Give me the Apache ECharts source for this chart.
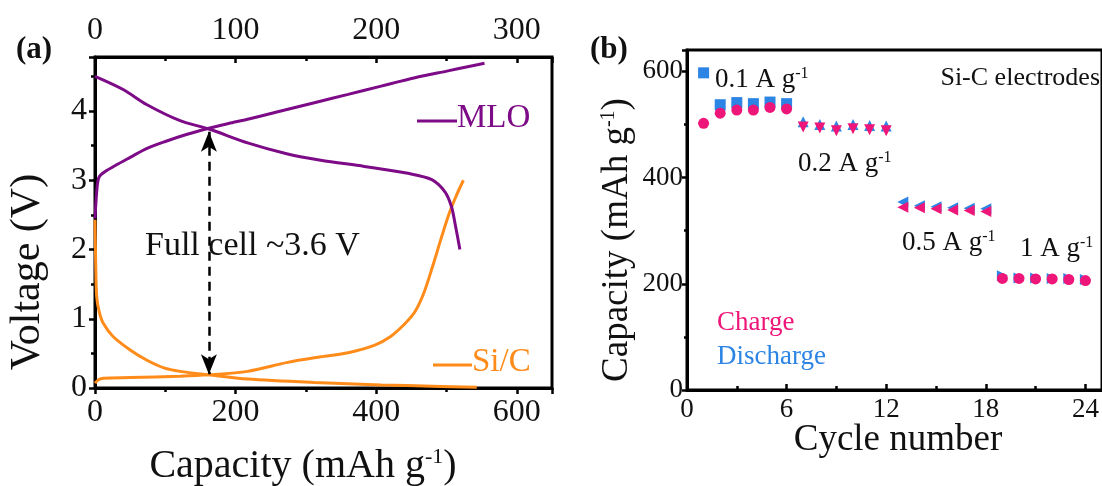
<!DOCTYPE html>
<html><head><meta charset="utf-8">
<script src="https://cdn.jsdelivr.net/npm/echarts@6/dist/echarts.min.js"></script>
<style>html,body{margin:0;padding:0;background:#fff}#c{width:1102px;height:486px}</style>
</head><body><div id="c"></div>
<script>
// ---------- Panel (a): voltage profiles ----------
var mloChargeX = [0, 3, 6, 15, 30, 50, 74, 100, 130, 162, 190, 217, 260, 312, 360, 407, 455, 502, 530, 554];
var mloChargeV = [2.45, 2.9, 3.05, 3.13, 3.22, 3.33, 3.46, 3.56, 3.66, 3.75, 3.82, 3.88, 3.99, 4.12, 4.24, 4.36, 4.48, 4.58, 4.64, 4.69];
var mloDisX = [0, 40, 74, 121, 162, 217, 274, 321, 383, 445, 479, 498, 507, 512, 519];
var mloDisV = [4.50, 4.31, 4.09, 3.86, 3.74, 3.54, 3.38, 3.29, 3.20, 3.10, 3.01, 2.83, 2.62, 2.38, 2.00];
var siDisX = [0, 1, 2.4, 6, 12, 26, 50, 74, 98, 121, 162, 217, 312, 407, 480, 543];
var siDisV = [2.43, 1.8, 1.32, 1.10, 0.93, 0.74, 0.55, 0.40, 0.29, 0.24, 0.19, 0.13, 0.08, 0.045, 0.025, 0.01];
var siChgX = [0, 5, 12, 50, 121, 162, 217, 274, 321, 360, 398, 420, 440, 455, 468, 480, 492, 503, 514, 524];
var siChgV = [0.07, 0.12, 0.14, 0.15, 0.17, 0.19, 0.24, 0.37, 0.45, 0.51, 0.62, 0.74, 0.92, 1.10, 1.38, 1.75, 2.15, 2.50, 2.78, 3.00];
var arrowX = 162, arrowTopV = 3.70, arrowBotV = 0.20;

// ---------- Panel (b): rate capability ----------
var cycles = [1,2,3,4,5,6,7,8,9,10,11,12,13,14,15,16,17,18,19,20,21,22,23,24];
var dischargeCap = [597,537,541,539,542,539, 505,500,497,500,498,497, 354,347,345,343,342,341, 215,211,211,210,210,208];
var chargeCap    = [502,521,527,527,532,529, 495,493,488,492,490,488, 344,343,341,339,338,336, 210,210,209,209,208,206];
var rateLabels = ['0.1', '0.2', '0.5', '1'];

var FONT = "'Liberation Serif','Times New Roman',serif";
var PURPLE = '#7D0A86', ORANGE = '#FF8C1A', PINK = '#EE1679', BLUE = '#2C84E4';

function zip(xs, ys) { return xs.map(function (x, i) { return [x, ys[i]]; }); }

var disSym = [['rect', 0], ['triangle', 0], ['triangle', 90], ['triangle', -90]];
var chgSym = [['circle', 0], ['triangle', 180], ['triangle', 90], ['circle', 0]];
function pts(vals, syms) {
  return cycles.map(function (c, i) {
    var s = syms[Math.floor(i / 6)];
    return { value: [c, vals[i]], symbol: s[0], symbolRotate: s[1] };
  });
}

var chart = echarts.init(document.getElementById('c'), null, { renderer: 'canvas' });
var axisLineA = { show: true, lineStyle: { color: '#000', width: 3 } };
var tickStyle = { width: 2.5, color: '#000' };

chart.setOption({
  animation: false,
  backgroundColor: '#fff',
  grid: [
    { left: 95, right: 550, top: 57, bottom: 98, show: true, borderColor: '#000', borderWidth: 3 },
    { left: 687, right: -6, top: 50, bottom: 96, show: true, borderColor: '#000', borderWidth: 3 }
  ],
  xAxis: [
    { gridIndex: 0, type: 'value', min: 0, max: 650, interval: 200, position: 'bottom',
      axisLine: axisLineA, splitLine: { show: false },
      axisTick: { show: true, length: 6, lineStyle: tickStyle },
      minorTick: { show: true, splitNumber: 2, length: 4, lineStyle: tickStyle },
      axisLabel: { color: '#111', fontFamily: FONT, fontSize: 32, margin: 9, showMaxLabel: false } },
    { gridIndex: 0, type: 'value', min: 0, max: 325, interval: 100, position: 'top',
      axisLine: axisLineA, splitLine: { show: false },
      axisTick: { show: true, inside: true, length: 6, lineStyle: tickStyle },
      minorTick: { show: true, splitNumber: 2, length: 4, lineStyle: tickStyle },
      axisLabel: { color: '#111', fontFamily: FONT, fontSize: 32, margin: 10, showMaxLabel: false } },
    { gridIndex: 1, type: 'value', min: 0, max: 25, interval: 6, position: 'bottom',
      axisLine: axisLineA, splitLine: { show: false },
      axisTick: { show: true, inside: true, length: 6, lineStyle: tickStyle },
      minorTick: { show: true, splitNumber: 2, length: 4, lineStyle: tickStyle },
      axisLabel: { color: '#111', fontFamily: FONT, fontSize: 27, margin: 6, showMaxLabel: false } }
  ],
  yAxis: [
    { gridIndex: 0, type: 'value', min: 0, max: 4.78, interval: 1,
      axisLine: axisLineA, splitLine: { show: false },
      axisTick: { show: true, length: 6, lineStyle: tickStyle },
      minorTick: { show: true, splitNumber: 2, length: 4, lineStyle: tickStyle },
      axisLabel: { color: '#111', fontFamily: FONT, fontSize: 32, margin: 8,
        formatter: function (v) { return Math.abs(v - Math.round(v)) < 1e-6 ? String(Math.round(v)) : ''; } } },
    { gridIndex: 1, type: 'value', min: 0, max: 640, interval: 200,
      axisLine: axisLineA, splitLine: { show: false },
      axisTick: { show: true, length: 5, lineStyle: tickStyle },
      minorTick: { show: true, splitNumber: 2, length: 3, lineStyle: tickStyle },
      axisLabel: { color: '#111', fontFamily: FONT, fontSize: 27, margin: 4,
        formatter: function (v) { return v % 200 === 0 ? String(v) : ''; } } }
  ],
  series: [
    { type: 'line', xAxisIndex: 0, yAxisIndex: 0, data: zip(siDisX, siDisV), showSymbol: false, smooth: 0.3,
      lineStyle: { color: ORANGE, width: 3 }, z: 3 },
    { type: 'line', xAxisIndex: 0, yAxisIndex: 0, data: zip(siChgX, siChgV), showSymbol: false, smooth: 0.3,
      lineStyle: { color: ORANGE, width: 3 }, z: 3 },
    { type: 'line', xAxisIndex: 0, yAxisIndex: 0, data: zip(mloChargeX, mloChargeV), showSymbol: false, smooth: 0.3,
      lineStyle: { color: PURPLE, width: 3 }, z: 4 },
    { type: 'line', xAxisIndex: 0, yAxisIndex: 0, data: zip(mloDisX, mloDisV), showSymbol: false, smooth: 0.3,
      lineStyle: { color: PURPLE, width: 3 }, z: 4,
      markLine: { silent: true, symbol: ['arrow', 'arrow'], symbolSize: [12, 20], label: { show: false },
        lineStyle: { color: '#000', width: 2.5, type: [9, 6] },
        data: [[{ coord: [arrowX, arrowTopV] }, { coord: [arrowX, arrowBotV] }]] } },
    { type: 'scatter', xAxisIndex: 2, yAxisIndex: 1, data: pts(dischargeCap, disSym), symbolSize: 11,
      itemStyle: { color: BLUE, opacity: 1 }, z: 5 },
    { type: 'scatter', xAxisIndex: 2, yAxisIndex: 1, data: pts(chargeCap, chgSym), symbolSize: 11,
      itemStyle: { color: PINK, opacity: 1 }, z: 6 }
  ],
  graphic: [
    { type: 'text', left: 16, top: 34, style: { text: '(a)', font: 'bold 31px ' + FONT, fill: '#111' } },
    { type: 'text', left: 590, top: 34, style: { text: '(b)', font: 'bold 31px ' + FONT, fill: '#111' } },
    { type: 'text', x: 28, y: 272, rotation: Math.PI / 2, style: { text: 'Voltage (V)', font: '42px ' + FONT, fill: '#111', align: 'center', verticalAlign: 'middle' } },
    { type: 'text', x: 303, y: 466, style: { text: 'Capacity (mAh g{s|-1})', font: '40px ' + FONT, fill: '#111', align: 'center', verticalAlign: 'middle',
      rich: { s: { font: '22px ' + FONT, fill: '#111', verticalAlign: 'top', padding: [0, 0, 18, 0] } } } },
    { type: 'line', shape: { x1: 417, y1: 121, x2: 457, y2: 121 }, style: { stroke: PURPLE, lineWidth: 3 } },
    { type: 'text', x: 457, y: 118, style: { text: 'MLO', font: '33px ' + FONT, fill: PURPLE, verticalAlign: 'middle' } },
    { type: 'line', shape: { x1: 433, y1: 365, x2: 472, y2: 365 }, style: { stroke: ORANGE, lineWidth: 3 } },
    { type: 'text', x: 472, y: 362, style: { text: 'Si/C', font: '33px ' + FONT, fill: ORANGE, verticalAlign: 'middle' } },
    { type: 'text', x: 145, y: 246, z: 1, style: { text: 'Full cell ~3.6 V', font: '34px ' + FONT, fill: '#111', verticalAlign: 'middle' } },
    { type: 'text', x: 617, y: 240, rotation: Math.PI / 2, style: { text: 'Capacity (mAh g{s|-1})', font: '37px ' + FONT, fill: '#111', align: 'center', verticalAlign: 'middle',
      rich: { s: { font: '20px ' + FONT, fill: '#111', verticalAlign: 'top', padding: [0, 0, 16, 0] } } } },
    { type: 'text', x: 898, y: 440, style: { text: 'Cycle number', font: '37px ' + FONT, fill: '#111', align: 'center', verticalAlign: 'middle' } },
    { type: 'text', x: 715, y: 80, style: { text: rateLabels[0] + ' A g{s|-1}', font: '27px ' + FONT, fill: '#111', verticalAlign: 'middle',
      rich: { s: { font: '16px ' + FONT, fill: '#111', verticalAlign: 'top', padding: [0, 0, 12, 0] } } } },
    { type: 'text', x: 798, y: 164, style: { text: rateLabels[1] + ' A g{s|-1}', font: '27px ' + FONT, fill: '#111', verticalAlign: 'middle',
      rich: { s: { font: '16px ' + FONT, fill: '#111', verticalAlign: 'top', padding: [0, 0, 12, 0] } } } },
    { type: 'text', x: 902, y: 243, style: { text: rateLabels[2] + ' A g{s|-1}', font: '27px ' + FONT, fill: '#111', verticalAlign: 'middle',
      rich: { s: { font: '16px ' + FONT, fill: '#111', verticalAlign: 'top', padding: [0, 0, 12, 0] } } } },
    { type: 'text', x: 1020, y: 249, style: { text: rateLabels[3] + ' A g{s|-1}', font: '27px ' + FONT, fill: '#111', verticalAlign: 'middle',
      rich: { s: { font: '16px ' + FONT, fill: '#111', verticalAlign: 'top', padding: [0, 0, 12, 0] } } } },
    { type: 'text', x: 1100, y: 78, style: { text: 'Si-C electrodes', font: '26px ' + FONT, fill: '#111', align: 'right', verticalAlign: 'middle' } },
    { type: 'text', x: 717, y: 323, style: { text: 'Charge', font: '27px ' + FONT, fill: PINK, verticalAlign: 'middle' } },
    { type: 'text', x: 717, y: 357, style: { text: 'Discharge', font: '27px ' + FONT, fill: BLUE, verticalAlign: 'middle' } }
  ]
});
</script></body></html>
